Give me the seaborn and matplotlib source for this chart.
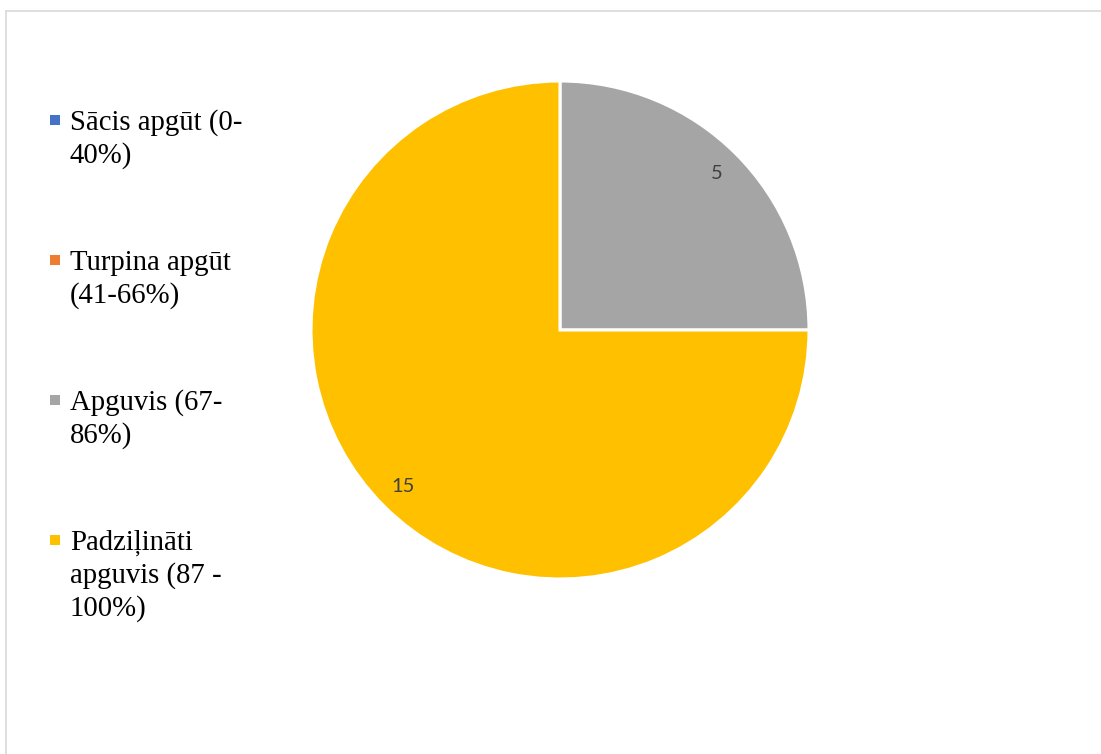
import matplotlib
matplotlib.use("Agg")
import matplotlib.pyplot as plt
from matplotlib.lines import Line2D
from matplotlib.patches import Rectangle
import seaborn as sns

categories = ["Sācis apgūt (0-\n40%)", "Turpina apgūt\n(41-66%)", "Apguvis (67-\n86%)", "Padziļināti\napguvis (87 -\n100%)"]
values = [0, 0, 5, 15]
colors = ["#4472C4", "#ED7D31", "#A5A5A5", "#FFC000"]

sns.set_theme(style="white")
plt.rcParams["font.family"] = ["DejaVu Sans"]

W, H = 1101, 754
fig = plt.figure(figsize=(W / 100, H / 100), dpi=100)
fig.patch.set_facecolor("white")

# pie axes: centre (560,330), radius ~249 px
cx, cy, r = 560, 330, 249
ax = fig.add_axes([(cx - r) / W, (H - cy - r) / H, 2 * r / W, 2 * r / H])
total = sum(values)
palette = sns.color_palette(colors)
wedges, texts, autotexts = ax.pie(
    values, colors=palette, startangle=90, counterclock=False,
    autopct=lambda p: f"{round(p * total / 100):d}" if p > 0 else "",
    pctdistance=0.89,
    wedgeprops=dict(edgecolor="white", linewidth=2.2),
    textprops=dict(fontsize=14.5, color="#404040", family="Lato"),
)
ax.set_xlim(-1, 1)
ax.set_ylim(-1, 1)
ax.set_aspect("equal")
ax.axis("off")

# legend drawn manually (marker aligned with first text line)
y0, step = 120, 140
for i, (lab, col) in enumerate(zip(categories, colors)):
    yc = y0 + i * step
    fig.patches.append(Rectangle(((50) / W, (H - yc - 5) / H), 10 / W, 10 / H,
                                 transform=fig.transFigure, facecolor=col,
                                 edgecolor="none", figure=fig))
    for j, line in enumerate(lab.split("\n")):
        fig.text(70 / W, (H - (yc + 10 + j * 33)) / H, line, fontsize=20.7,
                 family="Liberation Serif", color="black", va="baseline", ha="left")

# chart frame
frame_col = "#D9D9D9"
fig.add_artist(Line2D([6.5 / W, 1], [1 - 11 / H, 1 - 11 / H], color=frame_col, lw=1.2))
fig.add_artist(Line2D([6.5 / W, 6.5 / W], [0, 1 - 11 / H], color=frame_col, lw=1.2))

fig.savefig("out.png", dpi=100, facecolor="white")
